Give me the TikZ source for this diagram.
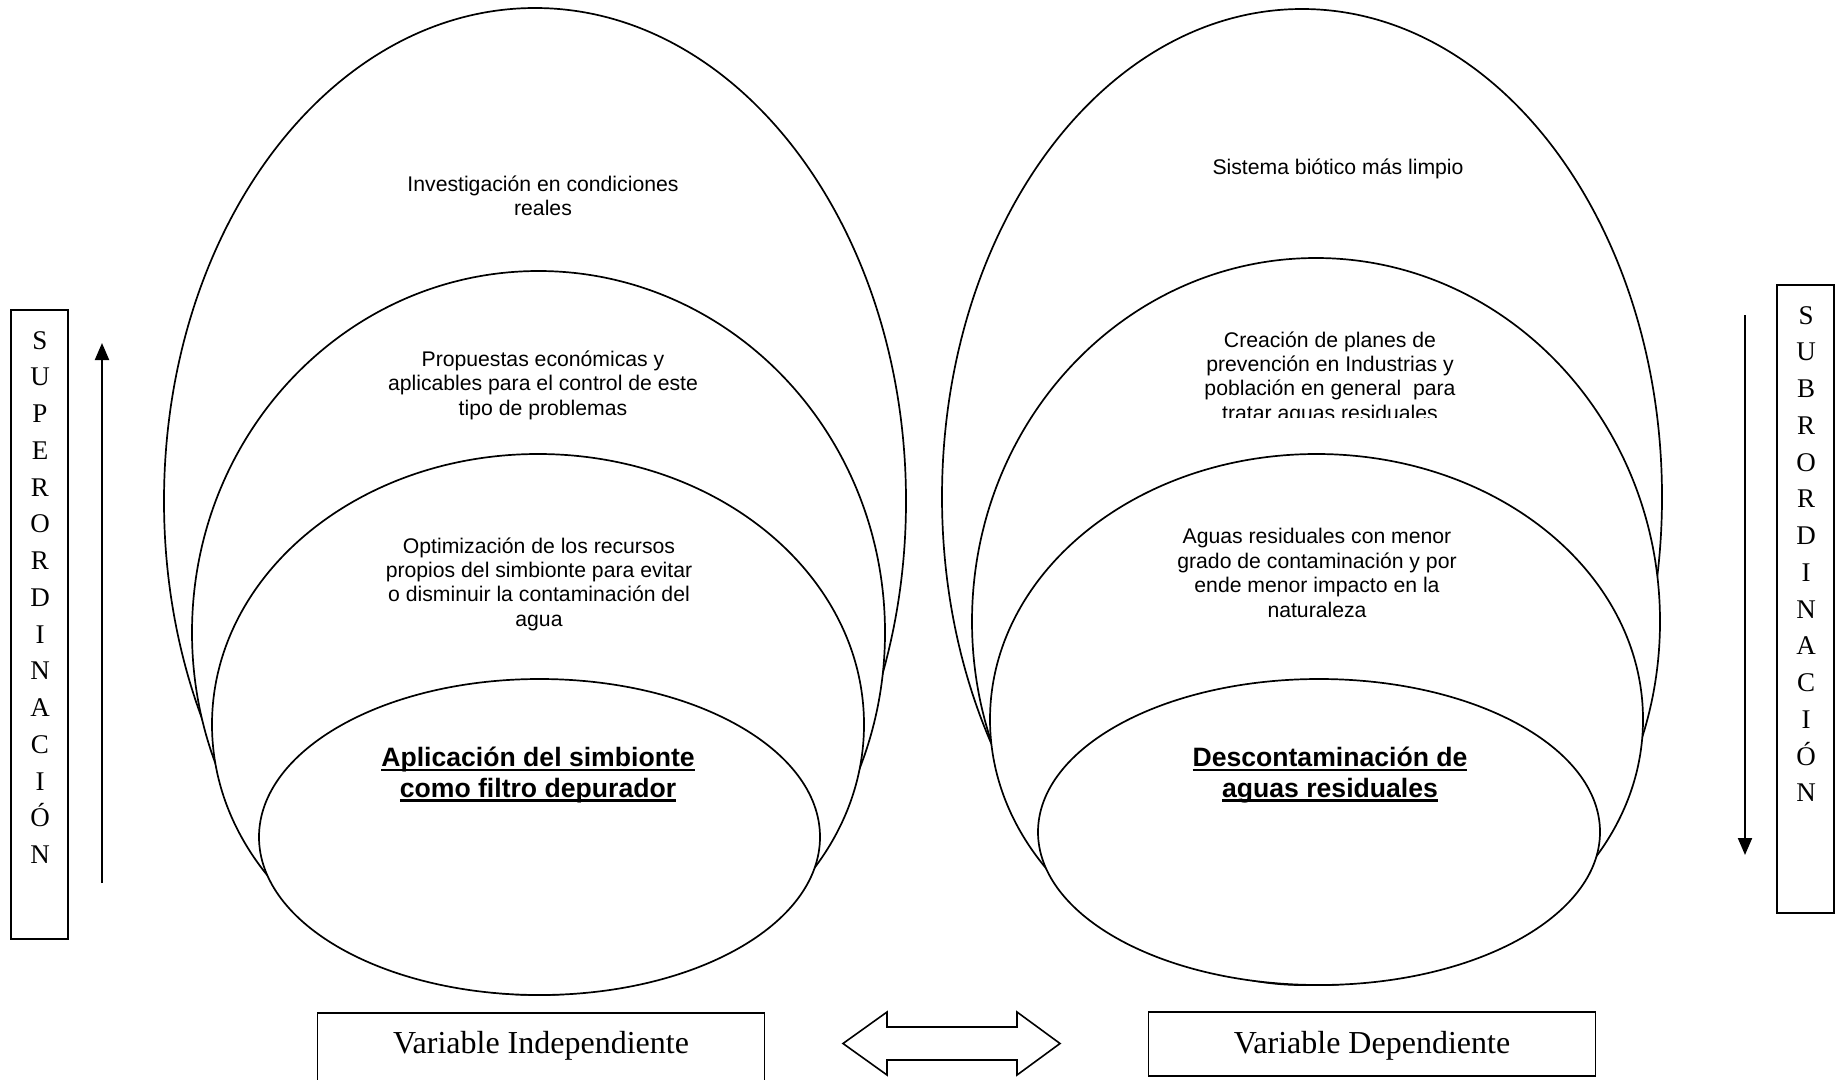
\documentclass[tikz,border=0pt]{standalone}
\usepackage{fontspec}
\setmainfont{Liberation Serif}
\newfontfamily\arialfont{Liberation Sans}
\usetikzlibrary{arrows.meta}
\newsavebox\ulbox
\newcommand\undl[1]{\sbox\ulbox{#1}\rlap{\rule[-4.4pt]{\wd\ulbox}{2.4pt}}\usebox\ulbox}
\tikzset{ring/.style={draw,line width=1.7pt,fill=white},
  txt/.style={font=\arialfont\fontsize{21.2}{24.4}\selectfont,align=center,inner sep=0pt},
  key/.style={font=\arialfont\bfseries\fontsize{26.6}{30.6}\selectfont,align=center,inner sep=0pt},
  varbox/.style={draw,line width=1.7pt,minimum width=447pt,inner ysep=0pt,font=\fontsize{32}{36}\selectfont},
  sidebox/.style={draw,line width=1.5pt,minimum width=57pt,minimum height=629pt},
  letter/.style={font=\fontsize{27}{30}\selectfont,inner sep=0pt,anchor=base},
  arr/.style={-{Triangle[length=17pt,width=14pt]},line width=2pt}}

\begin{document}
\begin{tikzpicture}[x=1pt,y=-1pt]
\fill[white] (0,0) rectangle (1841,1079);
\useasboundingbox (0,0) rectangle (1841,1079);
% independent variable: nested levels
\draw[ring] (535,501) ellipse [x radius=371pt,y radius=493pt];
\draw[ring] (538.5,632.5) ellipse [x radius=346.5pt,y radius=361.5pt];
\draw[ring] (538,724.5) ellipse [x radius=326pt,y radius=270.5pt];
\draw[ring] (539.5,837) ellipse [x radius=280.5pt,y radius=158pt];
% dependent variable: nested levels
\draw[ring] (1302,497) ellipse [x radius=360pt,y radius=488pt];
\draw[ring] (1316,621.5) ellipse [x radius=344pt,y radius=363.5pt];
\draw[ring] (1316.5,719.5) ellipse [x radius=326.5pt,y radius=265.5pt];
\draw[ring] (1319,832) ellipse [x radius=281pt,y radius=153pt];

\node[txt] (investig) at (543,196) {Investigación en condiciones\\reales};
\node[txt] (propuestas) at (543,385) {Propuestas económicas y\\aplicables para el control de este\\tipo de problemas};
\node[txt] (optim) at (539,584) {Optimización de los recursos\\propios del simbionte para evitar\\o disminuir la contaminación del\\agua};
\node[key] (aplic) at (538,775) {\undl{Aplicación del simbionte}\\\undl{como filtro depurador}};

\node[txt] (sistema) at (1338,169) {Sistema biótico más limpio};
\begin{scope}
\clip (1150,300) rectangle (1510,417);
\node[txt] (planes) at (1330,378) {Creación de planes de\\prevención en Industrias y\\población en general~ para\\tratar aguas residuales};
\end{scope}
\node[txt] (aguas) at (1317,573) {Aguas residuales con menor\\grado de contaminación y por\\ende menor impacto en la\\naturaleza};
\node[key] (descont) at (1330,775) {\undl{Descontaminación de}\\\undl{aguas residuales}};

% variables
\node[varbox,anchor=north,minimum height=76pt,text height=27pt,text depth=21pt] (indep) at (541,1012) {Variable Independiente};
\node[varbox,minimum height=64pt,text height=39pt,text depth=21pt] (dep) at (1372,1044) {Variable Dependiente};
\draw[line width=1.6pt,fill=white] (843,1043.5) -- (887,1012) -- (887,1027) -- (1017,1027) -- (1017,1012)
  -- (1060,1043.5) -- (1017,1075) -- (1017,1060) -- (887,1060) -- (887,1075) -- cycle;

% side labels
\node[sidebox] (supbox) at (39.5,624.5) {};
\foreach \ch [count=\i from 0] in {S,U,P,E,R,O,R,D,I,N,A,C,I,Ó,N}
  \node[letter] (sup\i) at (40,{349+36.75*\i}) {\ch};
\node[sidebox,minimum height=628pt] (subbox) at (1805.5,599) {};
\foreach \ch [count=\i from 0] in {S,U,B,R,O,R,D,I,N,A,C,I,Ó,N}
  \node[letter] (sub\i) at (1806,{324+36.75*\i}) {\ch};

\coordinate (upfoot) at (102,883);
\coordinate (uptip) at (102,343);
\draw[arr] (upfoot) -- (uptip);
\coordinate (downtop) at (1745,315);
\coordinate (downtip) at (1745,855);
\draw[arr] (downtop) -- (downtip);
\end{tikzpicture}
\end{document}
